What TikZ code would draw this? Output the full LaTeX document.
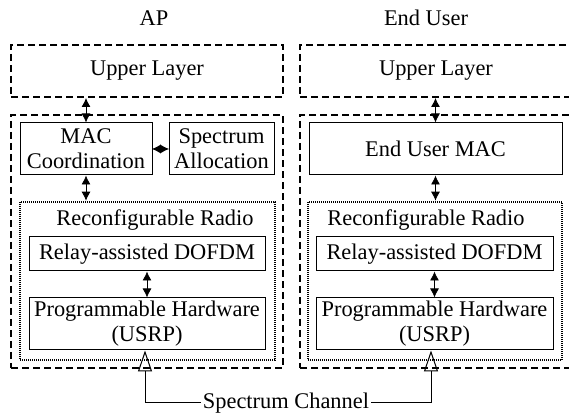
\documentclass[tikz,border=0pt]{standalone}
\usepackage{fontspec}
\setmainfont{Liberation Serif}
\usetikzlibrary{positioning,calc,arrows.meta}
\tikzset{>={Latex[length=4.5pt,width=4.5pt]}}
\tikzset{
  layerbox/.style={draw,line width=1pt,dash pattern=on 3.5pt off 2pt,inner sep=0pt},
  radiobox/.style={draw,line width=1.3pt,dash pattern=on 0.5pt off 0.5pt,inner sep=0pt},
  blockbox/.style={draw,line width=0.5pt,inner sep=0pt,align=center},
}

\begin{document}
\begin{tikzpicture}[x=0.5pt,y=-0.5pt,font=\fontsize{11.2}{12.5}\selectfont]
\useasboundingbox (0,0) rectangle (569,416);
% AP side
\node (apT) at (154,18) {AP};
\node[layerbox,minimum width=136pt,minimum height=26pt] (upL) at (147,71) {Upper Layer};
\node[layerbox,minimum width=136pt,minimum height=126.5pt] (outL) at (147,241.5) {};
\node[blockbox,minimum width=66pt,minimum height=26pt] (macL) at (86,149) {MAC\\Coordination};
\node[blockbox,minimum width=52.5pt,minimum height=26pt] (specL) at (221.5,149) {Spectrum\\Allocation};
\node[radiobox,minimum width=127.5pt,minimum height=79pt] (radL) at (147.5,281) {};
\node (radLtxt) at (155,220) {Reconfigurable Radio};
\node[blockbox,minimum width=118pt,minimum height=17pt] (relL) at (147,254) {Relay-assisted DOFDM};
\node[blockbox,minimum width=118pt,minimum height=26pt] (hwL) at (147,324) {Programmable Hardware\\(USRP)};
\draw[<->] (macL.north |- upL.south) -- (macL.north);
\draw[<->] (macL.south) -- (macL.south |- radL.north);
\draw[<->,shorten <=-0.3pt,shorten >=-0.3pt] (macL.east) -- (specL.west);
\draw[<->] (relL.south) -- (hwL.north);
% End User side
\node (euT) at (426,18) {End User};
\node[layerbox,minimum width=136pt,minimum height=26pt] (upR) at (436,71) {};
\node at (436,71) {Upper Layer};
\node[layerbox,minimum width=136pt,minimum height=126.5pt] (outR) at (436,241.5) {};
\node[blockbox,minimum width=126.5pt,minimum height=26pt] (macR) at (435.5,149) {End User MAC};
\node[radiobox,minimum width=127pt,minimum height=79pt] (radR) at (435,281) {};
\node (radRtxt) at (426,220) {Reconfigurable Radio};
\node[blockbox,minimum width=118.5pt,minimum height=17pt] (relR) at (434.5,254) {Relay-assisted DOFDM};
\node[blockbox,minimum width=118.5pt,minimum height=26pt] (hwR) at (434.5,324) {Programmable Hardware\\(USRP)};
\draw[<->] (macR.north |- upR.south) -- (macR.north);
\draw[<->] (macR.south) -- (macR.south |- radR.north);
\draw[<->] (relR.south) -- (hwR.north);
% channel
\node[inner sep=1pt] (chan) at (286,403) {Spectrum Channel};
\draw[line width=0.5pt,-{Triangle[open,length=10.5pt,width=7pt]}] (chan.west) -| ([xshift=-1pt]hwL.south);
\draw[line width=0.5pt,-{Triangle[open,length=10.5pt,width=7pt]}] (chan.east) -| ([xshift=-1.75pt]hwR.south);
\end{tikzpicture}
\end{document}
